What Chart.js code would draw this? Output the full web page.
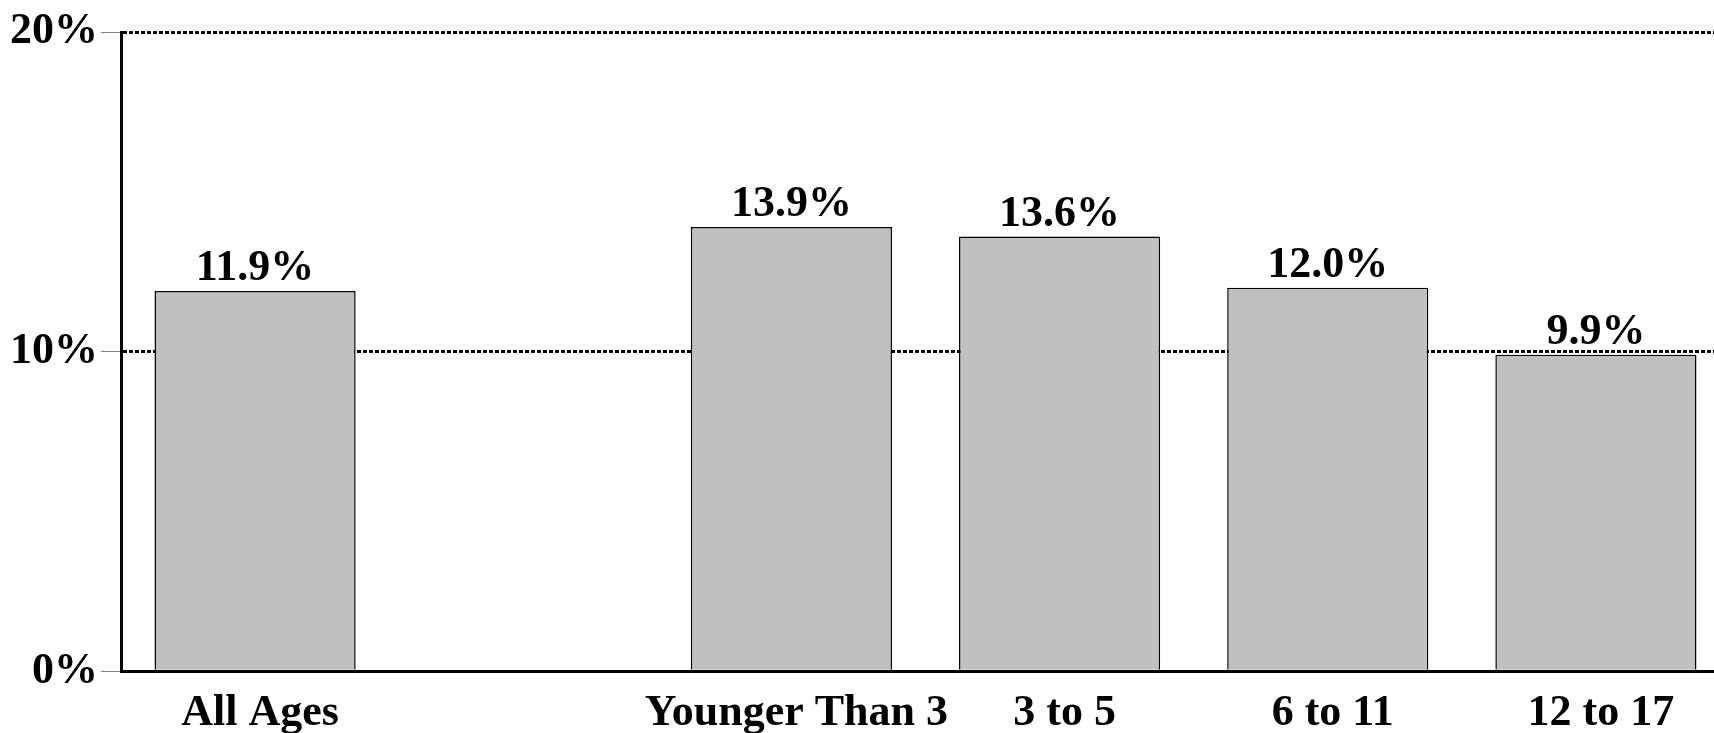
<!DOCTYPE html>
<html>
<head>
<meta charset="utf-8">
<script src="https://cdn.jsdelivr.net/npm/chart.js@4/dist/chart.umd.min.js"></script>
<style>
html,body{margin:0;padding:0;background:#fff;overflow:hidden;}
#wrap{width:1740px;height:760px;}
</style>
</head>
<body>
<div id="wrap"><canvas id="c" width="1740" height="760"></canvas></div>
<script>
const categories = ['All Ages', '', 'Younger Than 3', '3 to 5', '6 to 11', '12 to 17'];
const values = [11.9, null, 13.9, 13.6, 12.0, 9.9];
const yTicks = [0, 10, 20];

const FONT = "'Liberation Serif', 'Times New Roman', serif";

const valueLabels = {
  id: 'valueLabels',
  afterDatasetsDraw(chart) {
    const ctx = chart.ctx;
    const meta = chart.getDatasetMeta(0);
    ctx.save();
    ctx.font = 'bold 44px ' + FONT;
    ctx.fillStyle = '#000';
    ctx.textAlign = 'center';
    ctx.textBaseline = 'alphabetic';
    meta.data.forEach((bar, i) => {
      const v = values[i];
      if (v === null || v === undefined) return;
      ctx.fillText(v.toFixed(1) + '%', bar.x, bar.y - 11);
    });
    ctx.restore();
  }
};

new Chart(document.getElementById('c'), {
  type: 'bar',
  data: {
    labels: categories,
    datasets: [{
      data: values,
      backgroundColor: '#C0C0C0',
      borderColor: '#000',
      borderWidth: 1.5,
      borderSkipped: 'bottom',
      categoryPercentage: 1.0,
      barPercentage: 0.75
    }]
  },
  options: {
    responsive: false,
    animation: false,
    devicePixelRatio: 1,
    layout: { padding: { left: 7, right: 10, top: 32, bottom: 4 } },
    plugins: { legend: { display: false }, tooltip: { enabled: false } },
    scales: {
      x: {
        grid: { display: false, drawTicks: false },
        border: { display: true, color: '#000', width: 3 },
        ticks: {
          color: '#000',
          font: { family: FONT, size: 44, weight: 'bold' },
          padding: 16,
          labelOffset: 5,
          maxRotation: 0,
          autoSkip: false
        }
      },
      y: {
        min: 0,
        max: 20,
        afterBuildTicks(scale) { scale.ticks = yTicks.map(v => ({ value: v })); },
        grid: {
          color: '#000',
          lineWidth: 3,
          drawTicks: true,
          tickLength: 20,
          tickColor: '#808080',
          tickWidth: 1,
          tickBorderDash: []
        },
        border: { display: true, color: '#000', width: 3, dash: [4, 2] },
        ticks: {
          color: '#000',
          padding: 3,
          font: { family: FONT, size: 44, weight: 'bold' },
          callback: v => v + '%'
        }
      }
    }
  },
  plugins: [valueLabels]
});
</script>
</body>
</html>
